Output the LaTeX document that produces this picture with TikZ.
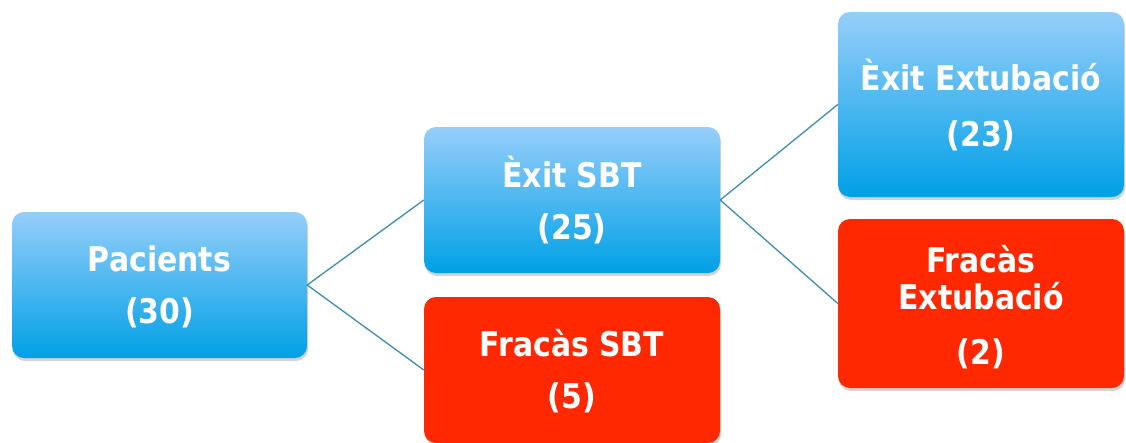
\documentclass[tikz,border=0pt]{standalone}
\usepackage{fontspec}
\setmainfont{DejaVu Sans}[FakeStretch=0.88]
\usetikzlibrary{shadows}

\definecolor{boxtop}{RGB}{150,206,250}
\definecolor{boxbot}{RGB}{0,160,230}
\definecolor{failred}{RGB}{255,40,0}
\definecolor{linkblue}{RGB}{60,140,180}

\tikzset{
  box/.style={rounded corners=12pt, minimum width=295pt, minimum height=146pt,
    align=center, text=white, font=\bfseries\fontsize{34}{37}\selectfont,
    drop shadow={shadow xshift=1pt, shadow yshift=-3pt, opacity=0.35}},
  okbox/.style={box, top color=boxtop, bottom color=boxbot},
  failbox/.style={box, fill=failred},
  link/.style={linkblue, line width=1.3pt}
}

\begin{document}
\begin{tikzpicture}[x=1pt,y=-1pt]
  \useasboundingbox (0,0) rectangle (1126,442);

  % Boxes
  \node[okbox] (pac) at (159.5,285) {\rule{0pt}{30pt}Pacients\\[15pt](30)};
  \node[okbox, minimum width=296pt] (exitsbt) at (572,200) {\rule{0pt}{30pt}Èxit SBT\\[15pt](25)};
  \node[failbox, minimum width=296pt] (fracsbt) at (572,370) {\rule{0pt}{30pt}Fracàs SBT\\[15pt](5)};
  \node[okbox, minimum width=286pt, minimum height=185pt] (exitext) at (981,104.5)
    {Èxit Extubació\\[19pt](23)};
  \node[failbox, minimum width=286pt, minimum height=169pt] (fracext) at (981,303.5)
    {\rule{0pt}{34pt}Fracàs\\Extubació\\[18pt](2)};

  % Connectors
  \draw[link] (pac.east) -- (exitsbt.west);
  \draw[link] (pac.east) -- (fracsbt.west);
  \draw[link] (exitsbt.east) -- (exitext.west);
  \draw[link] (exitsbt.east) -- (fracext.west);
\end{tikzpicture}
\end{document}
